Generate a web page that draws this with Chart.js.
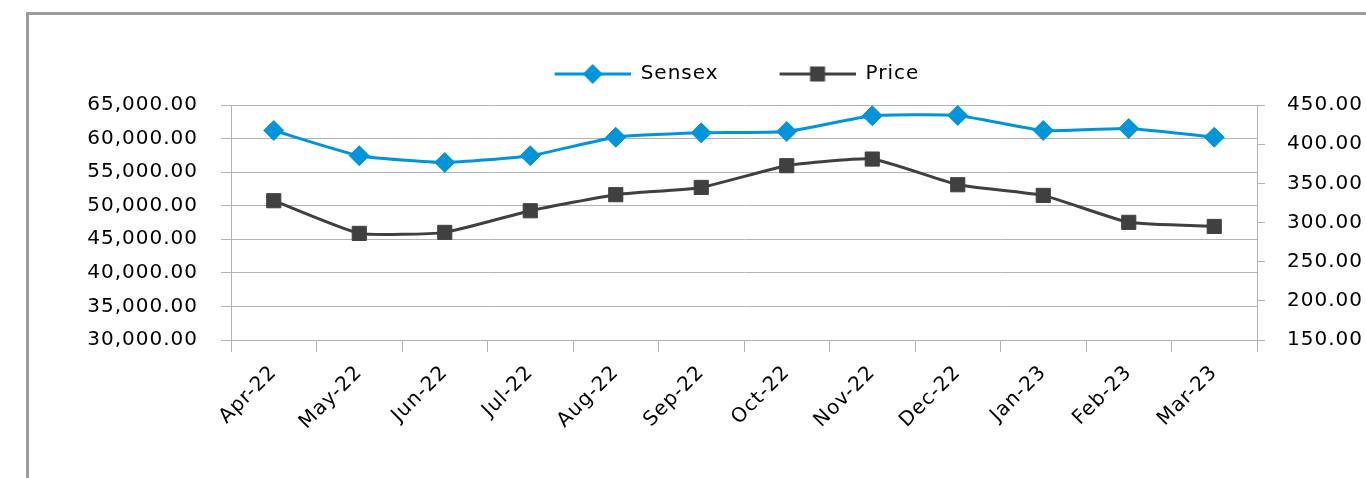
<!DOCTYPE html>
<html>
<head>
<meta charset="utf-8">
<script src="https://cdn.jsdelivr.net/npm/chart.js@4"></script>
<style>
  html, body { margin: 0; padding: 0; background: #fff; overflow: hidden; }
  #frame { position: absolute; left: 26px; top: 12px; width: 1400px; height: 520px; border: 3px solid #9b9b9b; }
  #chart { position: absolute; left: 0; top: 0; }
</style>
</head>
<body>
<div id="frame"></div>
<canvas id="chart" width="1366" height="478"></canvas>
<script>
const months = ['Apr-22', 'May-22', 'Jun-22', 'Jul-22', 'Aug-22', 'Sep-22', 'Oct-22', 'Nov-22', 'Dec-22', 'Jan-23', 'Feb-23', 'Mar-23'];
const sensex = [61200, 57450, 56450, 57450, 60200, 60850, 61050, 63400, 63450, 61200, 61500, 60200];
const price = [327.8, 286.1, 287.4, 315.0, 335.5, 344.8, 372.5, 381.0, 348.2, 334.6, 300.2, 295.0];
const leftTicks = [30000, 65000, 5000];
const rightTicks = [150, 450, 50];

const blue = '#0095da';
const dark = '#404040';
const font = { family: 'DejaVu Sans', size: 20 };

// legend icon: a line with the marker in the middle (blank room on the left)
function legendIcon(color, shape) {
  const c = document.createElement('canvas');
  c.width = 127; c.height = 24;
  const g = c.getContext('2d');
  g.strokeStyle = color; g.lineWidth = 3;
  g.beginPath(); g.moveTo(51, 12); g.lineTo(127, 12); g.stroke();
  g.fillStyle = color;
  g.beginPath();
  if (shape === 'diamond') {
    g.moveTo(89, 2); g.lineTo(99, 12); g.lineTo(89, 22); g.lineTo(79, 12);
  } else {
    g.rect(81.5, 4.5, 15, 15);
  }
  g.closePath(); g.fill();
  return c;
}
const icons = [legendIcon(blue, 'diamond'), legendIcon(dark, 'square')];

const fmt = v => v.toLocaleString('en-US', { minimumFractionDigits: 2, maximumFractionDigits: 2 });

// slightly wider text, like the original
const spacing = {
  id: 'spacing',
  beforeUpdate: chart => { chart.ctx.letterSpacing = '1px'; },
  beforeDraw: chart => { chart.ctx.letterSpacing = '1px'; }
};

new Chart(document.getElementById('chart'), {
  type: 'line',
  plugins: [spacing],
  data: {
    labels: months,
    datasets: [{
      label: 'Sensex',
      data: sensex,
      yAxisID: 'y',
      borderColor: blue,
      backgroundColor: blue,
      borderWidth: 3,
      pointStyle: 'rectRot',
      pointRadius: 10,
      pointBorderWidth: 1,
      tension: 0.15
    }, {
      label: 'Price',
      data: price,
      yAxisID: 'y1',
      borderColor: dark,
      backgroundColor: dark,
      borderWidth: 3,
      pointStyle: 'rect',
      pointRadius: 10,
      pointBorderWidth: 1,
      tension: 0.15
    }]
  },
  options: {
    responsive: false,
    devicePixelRatio: 1,
    animation: false,
    layout: { padding: { left: 57, top: 54, right: 0, bottom: 0 } },
    plugins: {
      tooltip: { enabled: false },
      // empty title used only as a gap between the legend and the plot
      title: { display: true, text: '', weight: 500, font: { size: 1, lineHeight: 1 }, padding: { top: 0, bottom: 10 } },
      legend: {
        position: 'top',
        labels: {
          usePointStyle: true,
          pointStyleWidth: 127,
          padding: 10,
          color: '#000',
          font: font,
          generateLabels: chart => chart.data.datasets.map((ds, i) => ({
            text: ds.label,
            pointStyle: icons[i],
            fillStyle: ds.borderColor,
            strokeStyle: ds.borderColor,
            lineWidth: 0,
            hidden: false,
            datasetIndex: i,
            fontColor: '#000'
          }))
        }
      }
    },
    scales: {
      x: {
        offset: true,
        afterFit: s => { s.height = 138; },
        grid: { offset: true, drawOnChartArea: false, tickLength: 12, color: '#b3b3b3' },
        border: { color: '#b3b3b3' },
        ticks: { color: '#000', font: font, maxRotation: 45, minRotation: 45, padding: 9 }
      },
      y: {
        position: 'left',
        min: leftTicks[0], max: leftTicks[1],
        afterFit: s => { s.width = 174; },
        grid: { color: '#b3b3b3', tickLength: 10 },
        border: { color: '#b3b3b3' },
        ticks: { stepSize: leftTicks[2], color: '#000', font: font, padding: 23, callback: fmt }
      },
      y1: {
        position: 'right',
        min: rightTicks[0], max: rightTicks[1],
        afterFit: s => { s.width = 109; },
        grid: { drawOnChartArea: false, color: '#b3b3b3', tickLength: 8 },
        border: { color: '#b3b3b3' },
        ticks: { stepSize: rightTicks[2], color: '#000', font: font, padding: 22, callback: fmt }
      }
    }
  }
});
</script>
</body>
</html>
